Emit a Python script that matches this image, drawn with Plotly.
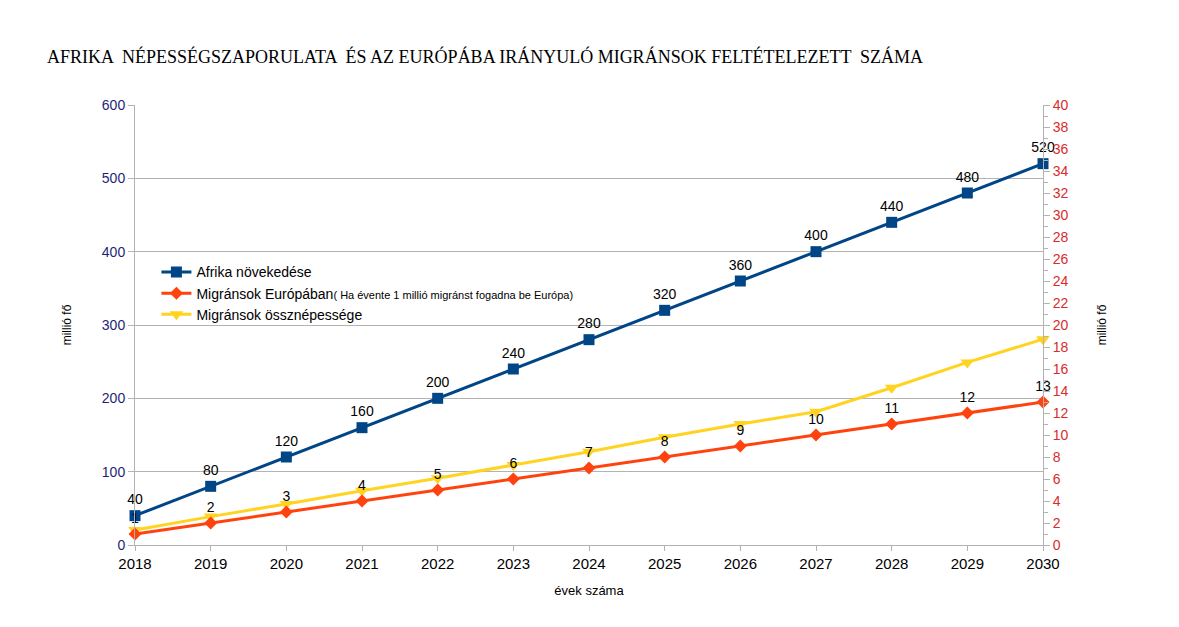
import plotly.graph_objects as go

years = list(range(2018, 2031))
afrika = [40, 80, 120, 160, 200, 240, 280, 320, 360, 400, 440, 480, 520]
migr_europa = [1, 2, 3, 4, 5, 6, 7, 8, 9, 10, 11, 12, 13]
migr_ossz = [1.36, 2.58, 3.73, 4.94, 6.06, 7.27, 8.48, 9.79, 11.0, 12.12, 14.3, 16.6, 18.7]

title_text = "AFRIKA  NÉPESSÉGSZAPORULATA  ÉS AZ EURÓPÁBA IRÁNYULÓ MIGRÁNSOK FELTÉTELEZETT  SZÁMA"
name_afrika = "Afrika növekedése"
name_europa = "Migránsok Európában<span style='font-size:11px'>( Ha évente 1 millió migránst fogadna be Európa)</span>"
name_ossz = "Migránsok össznépessége"

BLUE = "#004586"
RED = "#ff420e"
YELLOW = "#ffd320"
FONT = "Liberation Sans, Arial, sans-serif"

fig = go.Figure()
fig.add_trace(go.Scatter(
    x=years, y=migr_ossz, name=name_ossz, mode="lines+markers",
    line=dict(color=YELLOW, width=3), marker=dict(symbol="triangle-down", size=12, color=YELLOW),
    cliponaxis=False, yaxis="y2"))
fig.add_trace(go.Scatter(
    x=years, y=migr_europa, name=name_europa, mode="lines+markers+text",
    line=dict(color=RED, width=3), marker=dict(symbol="diamond", size=10, color=RED),
    text=[str(v) for v in migr_europa], textposition="top center",
    textfont=dict(size=14, color="black", family=FONT), cliponaxis=False, yaxis="y2"))
fig.add_trace(go.Scatter(
    x=years, y=afrika, name=name_afrika, mode="lines+markers+text",
    line=dict(color=BLUE, width=3), marker=dict(symbol="square", size=11, color=BLUE),
    text=[str(v) for v in afrika], textposition="top center",
    textfont=dict(size=14, color="black", family=FONT), cliponaxis=False, yaxis="y"))

fig.update_layout(
    width=1179, height=627,
    margin=dict(l=127, r=144, t=97, b=90),
    paper_bgcolor="white", plot_bgcolor="white",
    font=dict(family=FONT, color="black", size=13),
    title=dict(text=title_text, x=39/1179, xref="container", xanchor="left",
               y=1-49/627, yref="container", yanchor="middle",
               font=dict(family="Liberation Serif, Times New Roman, serif", size=18, color="black")),
    showlegend=True,
    legend=dict(x=0.0236, y=0.656, xanchor="left", yanchor="top", bgcolor="rgba(0,0,0,0)",
                font=dict(size=14, family=FONT, color="black"), traceorder="reversed",
                tracegroupgap=0, itemwidth=30),
    xaxis=dict(range=[2018, 2030], tickmode="array", tickvals=years, ticktext=[str(y) for y in years],
               showgrid=False, zeroline=False, showline=True, linecolor="#b3b3b3", linewidth=1,
               ticks="outside", ticklen=5, tickcolor="#b3b3b3", tickfont=dict(size=15, color="black"),
               title=dict(text="évek száma", font=dict(size=13, color="black"), standoff=14)),
    yaxis=dict(range=[0, 600], dtick=100, showgrid=True, gridcolor="#b3b3b3", gridwidth=1,
               zeroline=False, showline=True, linecolor="#b3b3b3", ticks="outside", ticklen=6,
               tickcolor="#b3b3b3", tickfont=dict(size=14, color="#1f1f78"),
               title=dict(text="millió fő", font=dict(size=12, color="black"), standoff=27)),
    yaxis2=dict(range=[0, 40], dtick=2, overlaying="y", side="right", showgrid=False,
                zeroline=False, showline=True, linecolor="#b3b3b3", ticks="outside", ticklen=6,
                tickcolor="#b3b3b3", tickfont=dict(size=14, color="#d92b2b"),
                minor=dict(dtick=1, ticks="outside", ticklen=4, tickcolor="#b3b3b3"),
                title=dict(text="millió fő", font=dict(size=12, color="black"), standoff=30)),
)

fig.write_html("out.html")
